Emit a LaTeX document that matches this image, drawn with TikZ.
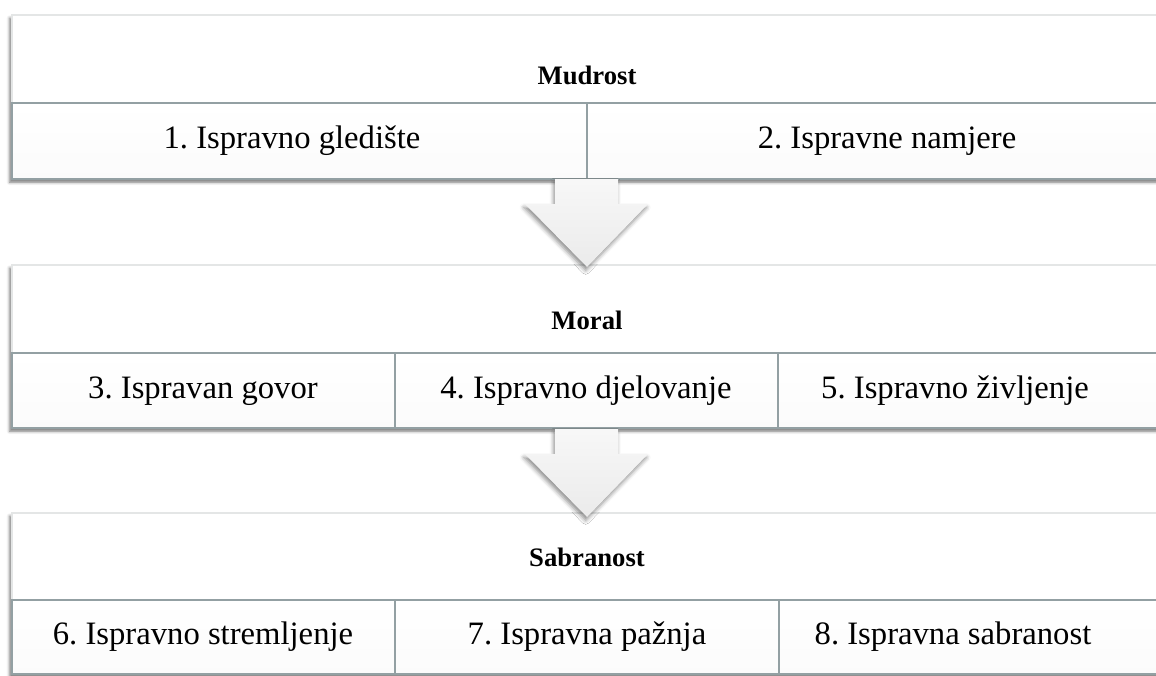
\documentclass[tikz,border=0pt]{standalone}
\usepackage{fontspec}
\setmainfont{Liberation Serif}
\frenchspacing
\usetikzlibrary{shadows,shadows.blur,positioning}
\definecolor{rulegray}{HTML}{93A0A3}
\definecolor{edgegray}{HTML}{E4E6E6}

\begin{document}
\begin{tikzpicture}[x=0.75pt,y=-0.75pt,
  panel/.style={fill=white,draw=edgegray,line width=0.8pt,
    blur shadow={shadow xshift=-1.8pt,shadow yshift=-2.4pt,shadow blur radius=2.2pt,shadow opacity=55}},
  cell/.style={draw=rulegray,line width=0.9pt,top color=white,bottom color=black!1.5},
  head/.style={font=\bfseries\fontsize{20}{24}\selectfont},
  item/.style={font=\fontsize{24.5}{29}\selectfont},
  bigarrow/.style={top color=black!3,bottom color=black!8,draw=none,
    blur shadow={shadow xshift=-1pt,shadow yshift=-2.5pt,shadow blur radius=3pt,shadow opacity=45}}]
  \useasboundingbox (0,0) rectangle (1156,675);

  \path[panel] (12,15) rectangle (1170,179);
  \path[cell] (12,103) rectangle (587,179);
  \path[cell] (587,103) rectangle (1170,179);
  \node[head] (mudrost) at (587,75) {Mudrost};
  \node[item] (g1) at (292,141) {1. Ispravno gledište};
  \node[item] (g2) at (887,141) {2. Ispravne namjere};

  \path[panel] (12,265) rectangle (1170,428);
  \path[cell] (12,353) rectangle (395,428);
  \path[cell] (395,353) rectangle (778,428);
  \path[cell] (778,353) rectangle (1170,428);
  \node[head] (moral) at (587,320) {Moral};
  \node[item] (g3) at (203,391) {3. Ispravan govor};
  \node[item] (g4) at (586,391) {4. Ispravno djelovanje};
  \node[item] (g5) at (955,391) {5. Ispravno življenje};

  \path[panel] (12,513) rectangle (1170,674);
  \path[cell] (12,600) rectangle (395,674);
  \path[cell] (395,600) rectangle (779,674);
  \path[cell] (779,600) rectangle (1170,674);
  \node[head] (sabranost) at (587,557) {Sabranost};
  \node[item] (g6) at (203,637) {6. Ispravno stremljenje};
  \node[item] (g7) at (587,637) {7. Ispravna pažnja};
  \node[item] (g8) at (953,637) {8. Ispravna sabranost};

  \foreach \t in {179,429}
    \path[bigarrow] (555,\t) -- (618,\t) -- (618,\t+25) -- (648,\t+25)
      -- (587,\t+88) -- (525,\t+25) -- (555,\t+25) -- cycle;
\end{tikzpicture}
\end{document}
